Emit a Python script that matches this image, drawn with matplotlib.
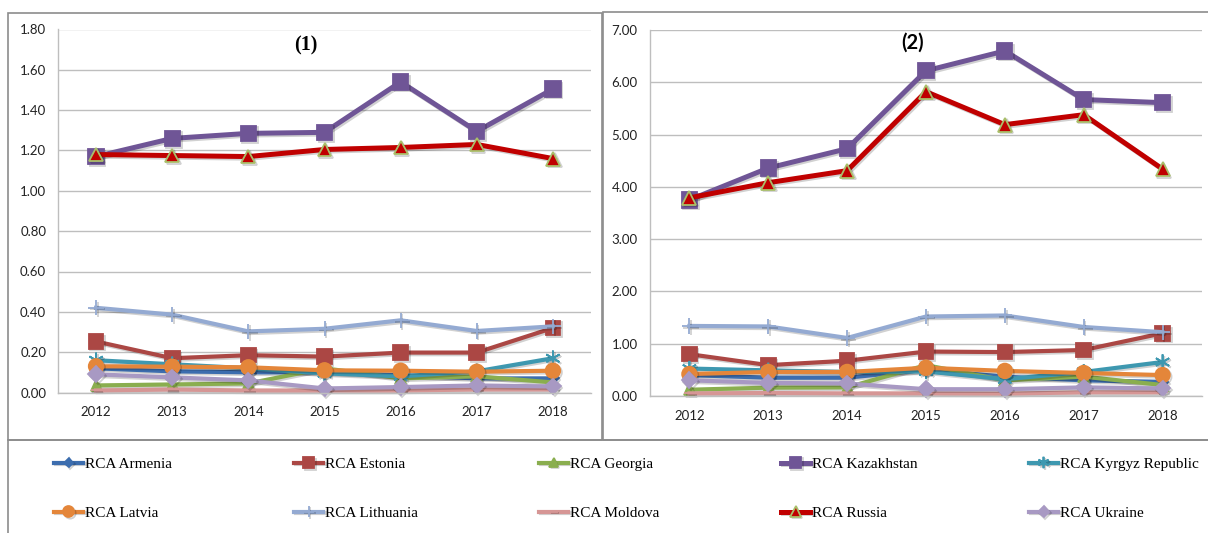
import matplotlib
matplotlib.use("Agg")
import matplotlib.pyplot as plt
from matplotlib.patches import Rectangle
import matplotlib.patheffects as pe

years = ["2012", "2013", "2014", "2015", "2016", "2017", "2018"]

series_names = ["RCA Armenia", "RCA Estonia", "RCA Georgia", "RCA Kazakhstan",
                "RCA Kyrgyz Republic", "RCA Latvia", "RCA Lithuania",
                "RCA Moldova", "RCA Russia", "RCA Ukraine"]

# Panel (1)
armenia_1 = [0.12, 0.105, 0.10, 0.10, 0.085, 0.07, 0.07]
estonia_1 = [0.253, 0.17, 0.185, 0.178, 0.198, 0.198, 0.32]
georgia_1 = [0.035, 0.04, 0.045, 0.12, 0.07, 0.08, 0.05]
kazakhstan_1 = [1.17, 1.26, 1.285, 1.29, 1.54, 1.295, 1.505]
kyrgyz_1 = [0.16, 0.14, 0.12, 0.095, 0.08, 0.105, 0.17]
latvia_1 = [0.13, 0.128, 0.125, 0.11, 0.108, 0.103, 0.108]
lithuania_1 = [0.42, 0.386, 0.303, 0.316, 0.358, 0.305, 0.328]
moldova_1 = [0.01, 0.015, 0.01, 0.01, 0.01, 0.015, 0.015]
russia_1 = [1.18, 1.175, 1.17, 1.205, 1.215, 1.23, 1.16]
ukraine_1 = [0.09, 0.075, 0.06, 0.02, 0.027, 0.035, 0.03]

# Panel (2)
armenia_2 = [0.40, 0.35, 0.35, 0.50, 0.37, 0.30, 0.27]
estonia_2 = [0.80, 0.59, 0.675, 0.85, 0.84, 0.88, 1.20]
georgia_2 = [0.12, 0.16, 0.165, 0.59, 0.30, 0.37, 0.21]
kazakhstan_2 = [3.75, 4.36, 4.73, 6.22, 6.60, 5.67, 5.61]
kyrgyz_2 = [0.525, 0.49, 0.46, 0.47, 0.32, 0.46, 0.65]
latvia_2 = [0.42, 0.46, 0.46, 0.54, 0.48, 0.44, 0.40]
lithuania_2 = [1.34, 1.33, 1.11, 1.52, 1.54, 1.32, 1.22]
moldova_2 = [0.05, 0.057, 0.05, 0.05, 0.045, 0.07, 0.07]
russia_2 = [3.79, 4.08, 4.31, 5.82, 5.19, 5.38, 4.34]
ukraine_2 = [0.30, 0.25, 0.24, 0.13, 0.13, 0.165, 0.145]

panel_1 = [armenia_1, estonia_1, georgia_1, kazakhstan_1, kyrgyz_1,
           latvia_1, lithuania_1, moldova_1, russia_1, ukraine_1]
panel_2 = [armenia_2, estonia_2, georgia_2, kazakhstan_2, kyrgyz_2,
           latvia_2, lithuania_2, moldova_2, russia_2, ukraine_2]

styles = [
    dict(color="#3C6DAE", marker="D", ms=6, lw=3.0, mec="#3C6DAE"),
    dict(color="#AB4744", marker="s", ms=10.5, lw=3.0, mec="#AB4744"),
    dict(color="#8AAE4F", marker="^", ms=8, lw=3.0, mec="#8AAE4F"),
    dict(color="#6F5596", marker="s", ms=11, lw=3.6, mec="#6F5596"),
    dict(color="#3E98B0", marker=(6, 2, 0), ms=11, lw=3.0, mec="#3E98B0"),
    dict(color="#E4863A", marker="o", ms=10.5, lw=3.0, mec="#E4863A"),
    dict(color="#94AAD2", marker="+", ms=11, lw=3.0, mec="#94AAD2"),
    dict(color="#D69695", marker="_", ms=8, lw=3.0, mec="#D69695"),
    dict(color="#C00000", marker="^", ms=10, lw=3.6, mec="#A9BF6A"),
    dict(color="#A899C3", marker="D", ms=8, lw=3.0, mec="#A899C3"),
]

W, H = 1208, 533
fig = plt.figure(figsize=(W / 100, H / 100), dpi=100)

tick_font = "Lato"
grid_color = "#BEBEBE"
frame_color = "#8C8C8C"

# Outer frames of the two panels and the legend area
for x0, y0, x1, y1 in [(8, 13, 602, 440), (603, 12, 1212, 440), (8, 440, 1212, 540)]:
    fig.add_artist(Rectangle((x0 / W, 1 - y1 / H), (x1 - x0) / W, (y1 - y0) / H,
                             transform=fig.transFigure, fill=False,
                             edgecolor=frame_color, lw=1.2, zorder=0))

shadow = [pe.SimpleLineShadow(offset=(1.2, -1.2), shadow_color="#000000", alpha=0.18), pe.Normal()]

def draw_panel(rect, data, ymax, step, title, title_font, title_xy, ypad):
    ax = fig.add_axes(rect)
    x = list(range(len(years)))
    handles = []
    for name, vals, st in zip(series_names, data, styles):
        h, = ax.plot(x, vals, color=st["color"], lw=st["lw"], marker=st["marker"],
                     markersize=st["ms"], markerfacecolor=st["color"],
                     markeredgecolor=st["mec"], markeredgewidth=1.3,
                     solid_joinstyle="round", label=name, path_effects=shadow,
                     clip_on=False)
        handles.append(h)
    ax.set_xlim(-0.5, len(years) - 0.5)
    ax.set_ylim(0, ymax)
    ticks = [i * step for i in range(int(round(ymax / step)) + 1)]
    ax.set_yticks(ticks)
    ax.set_yticklabels([f"{t:.2f}" for t in ticks])
    ax.set_xticks(x)
    ax.set_xticklabels(years)
    ax.tick_params(axis="both", length=0, labelsize=9.5, colors="#222222")
    ax.tick_params(axis="y", pad=ypad)
    ax.tick_params(axis="x", pad=10)
    for lab in ax.get_xticklabels() + ax.get_yticklabels():
        lab.set_fontfamily(tick_font)
    ax.grid(axis="y", color=grid_color, lw=1.0)
    ax.set_axisbelow(True)
    for s in ["top", "right"]:
        ax.spines[s].set_visible(False)
    for s in ["left", "bottom"]:
        ax.spines[s].set_color(grid_color)
        ax.spines[s].set_linewidth(1.0)
    ax.text(title_xy[0], title_xy[1], title, transform=ax.transAxes, ha="center",
            va="center", fontsize=14.5, fontweight="bold", family=title_font)
    return handles

handles = draw_panel([58 / W, 1 - 392.5 / H, 533 / W, 363 / H], panel_1, 1.8, 0.2,
                     "(1)", "Liberation Serif", (0.465, 0.955), 8.5)
draw_panel([650 / W, 1 - 396 / H, 552 / W, 366 / H], panel_2, 7.0, 1.0,
           "(2)", "Lato", (0.475, 0.965), 9.0)

# Legend: two rows of five entries
col_x = [54, 294, 539, 781, 1029]
row_y = [464, 513]
for i, h in enumerate(handles):
    r, c = divmod(i, 5)
    fig.legend(handles=[h], labels=[series_names[i]], loc="center left",
               bbox_to_anchor=(col_x[c] / W, 1 - row_y[r] / H), frameon=False,
               prop={"family": "Liberation Serif", "size": 11},
               handlelength=1.9, handletextpad=0.15, borderaxespad=0, borderpad=0,
               markerscale=0.75)

fig.savefig("out.png", dpi=100)
